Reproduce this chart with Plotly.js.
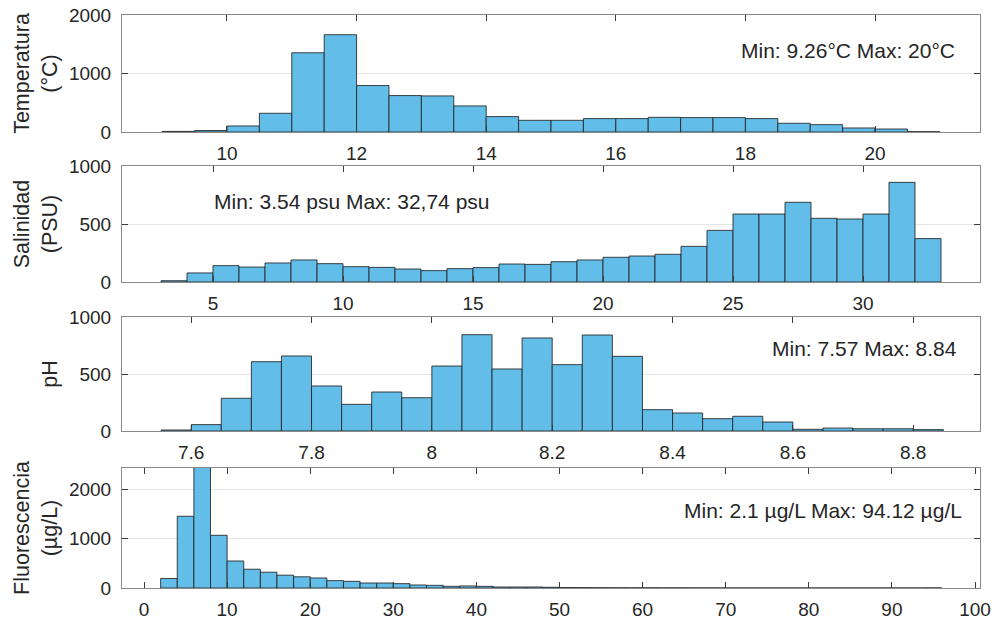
<!DOCTYPE html>
<html>
<head>
<meta charset="utf-8">
<script src="https://cdn.plot.ly/plotly-3.0.1.min.js"></script>
<style>html,body{margin:0;padding:0;background:#fff}#plot{width:995px;height:621px}</style>
</head>
<body>
<div id="plot"></div>
<script>
// ---- Data: histogram bin start edges and counts ----
var tempBinStart = 9.0, tempBinWidth = 0.5;
var tempCounts = [10, 25, 103, 320, 1354, 1663, 794, 623, 617, 446, 263, 200, 200, 229, 229, 251, 246, 246, 229, 149, 126, 69, 51, 5];

var salBinStart = 3, salBinWidth = 1;
var salCounts = [11, 78, 141, 129, 164, 190, 158, 132, 126, 112, 98, 115, 124, 155, 152, 175, 190, 213, 224, 239, 307, 445, 586, 586, 687, 549, 543, 586, 859, 374];

var phBinStart = 7.55, phBinWidth = 0.05;
var phCounts = [9, 56, 287, 608, 658, 395, 234, 342, 292, 570, 845, 544, 816, 582, 842, 655, 187, 158, 108, 129, 79, 15, 26, 20, 20, 12];

var fluBinStart = 2, fluBinWidth = 2;
var fluCounts = [193, 1453, 2700, 1067, 547, 380, 320, 260, 227, 203, 149, 135, 101, 101, 88, 61, 54, 34, 41, 34, 20, 20, 20, 14, 8, 6, 5, 4, 3, 3, 2, 2, 1, 1, 0, 0, 0, 0, 0, 0, 0, 0, 0, 0, 0, 0, 1];

// ---- Tick labels ----
var tempTicks = [10, 12, 14, 16, 18, 20];
var salTicks = [5, 10, 15, 20, 25, 30];
var phTicks = [7.6, 7.8, 8.0, 8.2, 8.4, 8.6, 8.8];
var phTickText = ["7.6", "7.8", "8", "8.2", "8.4", "8.6", "8.8"];
var fluTicks = [0, 10, 20, 30, 40, 50, 60, 70, 80, 90, 100];

var yTicks2000 = [0, 1000, 2000];
var yTicks1000 = [0, 500, 1000];

var yTitles = ["Temperatura<br>(°C)", "Salinidad<br>(PSU)", "pH", "Fluorescencia<br>(µg/L)"];
var notes = ["Min: 9.26°C Max: 20°C", "Min: 3.54 psu Max: 32,74 psu", "Min: 7.57 Max: 8.84", "Min: 2.1 µg/L Max: 94.12 µg/L"];

function centers(start, w, counts) {
  return counts.map(function(_, i){ return start + w * (i + 0.5); });
}

var barColor = 'rgb(99,189,233)';
var edgeColor = 'rgba(35,35,35,0.85)';

function histTrace(start, w, counts, xa, ya) {
  return {
    type: 'bar', x: centers(start, w, counts), y: counts, width: w,
    xaxis: xa, yaxis: ya,
    marker: {color: barColor, line: {color: edgeColor, width: 1}},
    hoverinfo: 'x+y', showlegend: false
  };
}

var data = [
  histTrace(tempBinStart, tempBinWidth, tempCounts, 'x', 'y'),
  histTrace(salBinStart, salBinWidth, salCounts, 'x2', 'y2'),
  histTrace(phBinStart, phBinWidth, phCounts, 'x3', 'y3'),
  histTrace(fluBinStart, fluBinWidth, fluCounts, 'x4', 'y4')
];

var W = 995, H = 621;
var xDom = [122 / W, 980 / W];
function yDom(top, bottom) { return [1 - bottom / H, 1 - top / H]; }

var fontFam = 'Liberation Sans, Arial, Helvetica, sans-serif';
var textCol = '#262626';

function xAxis(anchor, range, tickvals, ticktext) {
  var a = {
    anchor: anchor, domain: xDom, range: range,
    tickmode: 'array', tickvals: tickvals,
    showgrid: false, zeroline: false,
    showline: true, mirror: 'allticks', linecolor: '#8a8a8a', linewidth: 1,
    ticks: 'inside', ticklen: 6, tickcolor: '#3a3a3a', tickwidth: 1,
    tickfont: {family: fontFam, size: 19, color: textCol},
    ticklabelstandoff: 4
  };
  if (ticktext) a.ticktext = ticktext;
  return a;
}
function yAxis(anchor, dom, range, tickvals, title) {
  return {
    anchor: anchor, domain: dom, range: range,
    tickmode: 'array', tickvals: tickvals,
    showgrid: true, gridcolor: '#e6e6e6', gridwidth: 1, zeroline: false,
    showline: true, mirror: 'allticks', linecolor: '#8a8a8a', linewidth: 1,
    ticks: 'inside', ticklen: 6, tickcolor: '#3a3a3a', tickwidth: 1,
    tickfont: {family: fontFam, size: 19, color: textCol},
    ticklabelstandoff: 6,
    title: {text: title, font: {family: fontFam, size: 21.5, color: textCol}, standoff: 5}
  };
}

var annFont = {family: fontFam, size: 21, color: textCol};

var layout = {
  width: W, height: H,
  margin: {l: 0, r: 0, t: 0, b: 0},
  paper_bgcolor: '#fff', plot_bgcolor: '#fff',
  bargap: 0,
  xaxis: xAxis('y', [8.38, 21.62], tempTicks),
  yaxis: yAxis('x', yDom(15, 132), [0, 2000], yTicks2000, yTitles[0]),
  xaxis2: xAxis('y2', [1.5, 34.5], salTicks),
  yaxis2: yAxis('x2', yDom(166, 282), [0, 1000], yTicks1000, yTitles[1]),
  xaxis3: xAxis('y3', [7.485, 8.911], phTicks, phTickText),
  yaxis3: yAxis('x3', yDom(317, 431), [0, 1000], yTicks1000, yTitles[2]),
  xaxis4: xAxis('y4', [-2.65, 100.6], fluTicks),
  yaxis4: yAxis('x4', yDom(468, 588), [0, 2430], yTicks2000, yTitles[3]),
  annotations: [
    {text: notes[0], xref: 'paper', yref: 'paper', x: 957 / W, y: 1 - 50 / H, xanchor: 'right', yanchor: 'middle', showarrow: false, font: annFont},
    {text: notes[1], xref: 'paper', yref: 'paper', x: 212 / W, y: 1 - 201 / H, xanchor: 'left', yanchor: 'middle', showarrow: false, font: annFont},
    {text: notes[2], xref: 'paper', yref: 'paper', x: 959 / W, y: 1 - 348 / H, xanchor: 'right', yanchor: 'middle', showarrow: false, font: annFont},
    {text: notes[3], xref: 'paper', yref: 'paper', x: 964 / W, y: 1 - 510 / H, xanchor: 'right', yanchor: 'middle', showarrow: false, font: annFont}
  ]
};

Plotly.newPlot('plot', data, layout, {displayModeBar: false, staticPlot: true});
</script>
</body>
</html>
